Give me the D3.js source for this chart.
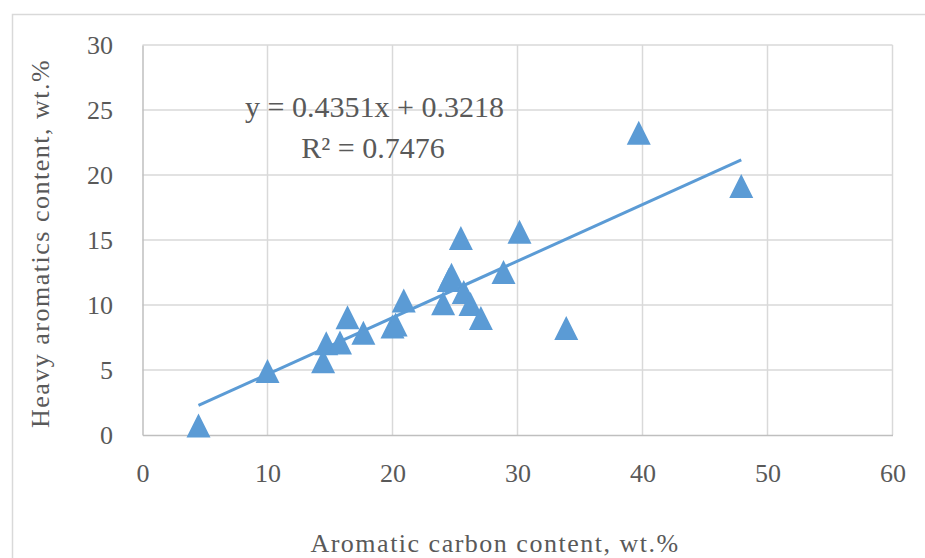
<!DOCTYPE html>
<html>
<head>
<meta charset="utf-8">
<script src="https://cdn.jsdelivr.net/npm/d3@7"></script>
<style>
  html, body { margin: 0; padding: 0; background: #fff; }
  svg { display: block; }
  text { font-family: "Liberation Serif", "Times New Roman", serif; fill: #595959; }
</style>
</head>
<body>
<svg id="chart" width="925" height="558"></svg>
<script>
// ---- data ----
const aromaticCarbon = [4.48, 10.0, 14.45, 14.7, 15.8, 16.4, 17.67, 20.0, 20.25, 20.9, 24.05, 24.5, 24.72, 25.7, 26.24, 27.07, 25.47, 28.88, 30.16, 33.9, 39.7, 47.9];
const heavyAromatics = [0.74, 4.92, 5.67, 7.05, 7.12, 9.06, 7.86, 8.35, 8.5, 10.35, 10.13, 11.92, 12.33, 11.0, 10.08, 9.0, 15.15, 12.54, 15.64, 8.23, 23.25, 19.15];
const xTicks = [0, 10, 20, 30, 40, 50, 60];
const yTicks = [0, 5, 10, 15, 20, 25, 30];
const trendSlope = 0.4351;
const trendIntercept = 0.3218;
const equationLabel = "y = 0.4351x + 0.3218";
const r2Label = "R² = 0.7476";
const xTitle = "Aromatic carbon content, wt.%";
const yTitle = "Heavy aromatics content, wt.%";

const svg = d3.select("#chart");
const blue = "#5b9bd5";

// outer chart frame
svg.append("rect")
  .attr("x", 12.5).attr("y", 14.5).attr("width", 1000).attr("height", 1000)
  .attr("fill", "none").attr("stroke", "#d9d9d9").attr("stroke-width", 1.5);

const x = d3.scaleLinear().domain([0, 60]).range([142.5, 892.5]);
const y = d3.scaleLinear().domain([0, 30]).range([435, 45]);

// gridlines
svg.append("g").selectAll("line").data(xTicks.slice(1)).join("line")
  .attr("x1", d => x(d)).attr("x2", d => x(d))
  .attr("y1", y(0)).attr("y2", y(30))
  .attr("stroke", "#d9d9d9").attr("stroke-width", 1.5);
svg.append("g").selectAll("line").data(yTicks.slice(1)).join("line")
  .attr("x1", x(0)).attr("x2", x(60))
  .attr("y1", d => y(d)).attr("y2", d => y(d))
  .attr("stroke", "#d9d9d9").attr("stroke-width", 1.5);

// axes
const gx = svg.append("g").attr("transform", `translate(0,${y(0)})`)
  .call(d3.axisBottom(x).tickValues(xTicks).tickSize(0).tickPadding(29).tickFormat(d3.format("d")));
const gy = svg.append("g").attr("transform", `translate(${x(0)},0)`)
  .call(d3.axisLeft(y).tickValues(yTicks).tickSize(0).tickPadding(29.5).tickFormat(d3.format("d")));
[gx, gy].forEach(g => {
  g.attr("font-family", null).attr("font-size", null);
  g.selectAll("text").style("font-size", "26px").attr("fill", "#595959");
  g.select(".domain").attr("stroke", "#bfbfbf").attr("stroke-width", 1.5);
});

// trendline
const xs = d3.extent(aromaticCarbon);
svg.append("line")
  .attr("x1", x(xs[0])).attr("y1", y(trendSlope * xs[0] + trendIntercept))
  .attr("x2", x(xs[1])).attr("y2", y(trendSlope * xs[1] + trendIntercept))
  .attr("stroke", blue).attr("stroke-width", 3);

// triangle markers
const tri = d3.symbol().type(d3.symbolTriangle).size(240);
svg.append("g").selectAll("path").data(aromaticCarbon.map((d, i) => [d, heavyAromatics[i]])).join("path")
  .attr("d", "M0,-12L12,12L-12,12Z")
  .attr("transform", d => `translate(${x(d[0])},${y(d[1])})`)
  .attr("fill", blue);

// equation labels
svg.append("text").attr("x", 374.5).attr("y", 116.5).attr("text-anchor", "middle")
  .style("font-size", "30px").text(equationLabel);
svg.append("text").attr("x", 373).attr("y", 157.5).attr("text-anchor", "middle")
  .style("font-size", "30px").text(r2Label);

// axis titles
svg.append("text").attr("x", 495).attr("y", 552).attr("text-anchor", "middle")
  .style("font-size", "26px").style("letter-spacing", "1.5px").text(xTitle);
svg.append("text").attr("transform", "translate(49,243.5) rotate(-90)").attr("text-anchor", "middle")
  .style("font-size", "26px").style("letter-spacing", "1.5px").text(yTitle);
</script>
</body>
</html>
